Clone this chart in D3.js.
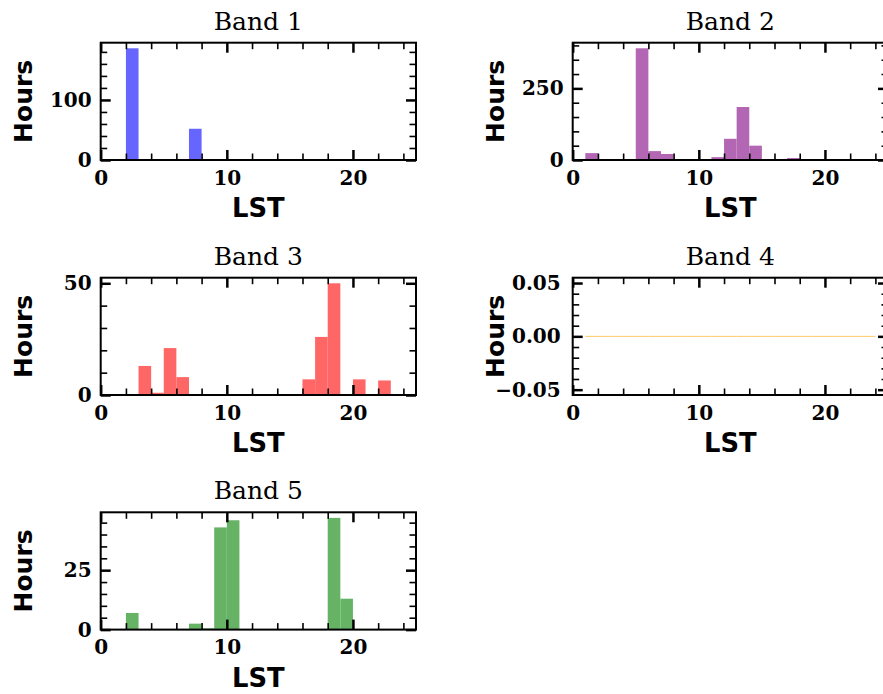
<!DOCTYPE html>
<html>
<head>
<meta charset="utf-8">
<script src="https://cdn.jsdelivr.net/npm/d3@7"></script>
<style>
  html, body { margin: 0; padding: 0; background: #fff; }
  svg { display: block; }
</style>
</head>
<body>
<svg id="chart" width="883" height="694"></svg>
<script>
// ---- data ----
const binEdges = [1,2,3,4,5,6,7,8,9,10,11,12,13,14,15,16,17,18,19,20,21,22,23]; // left edge of each 1-h LST bin
const band1 = [1,186,0,0,0,0,52,0,0,0,0,0,0,0,0,0,0,0,0,0,0,0,0];
const band2 = [24,0,0,0,390,31,21,0,1,0,10,74,185,50,0,0,7,0,0,0,0,0,2];
const band3 = [0,0,13,1,21,8,0,0,0,0,0,0,0,0,0,7,26,50,0,7,0,6.5,0];
const band4 = [0,0,0,0,0,0,0,0,0,0,0,0,0,0,0,0,0,0,0,0,0,0,0];
const band5 = [0,7,0,0,0,0,2.5,0.5,43,46,0,0,0,0,0,0,0,47,13,0,0,0,0];
const titles = ["Band 1","Band 2","Band 3","Band 4","Band 5"];
const xMajorTicks = [0,10,20];
const yMajorTicks = [[0,100],[0,250],[0,50],[-0.05,0,0.05],[0,25]];
const yMinorSteps = [20,50,10,0.01,5];

// ---- styles / layout ----
const colors = ["#6666ff","#b366b3","#ff6666","#ffc966","#66b366"];
const colX = [100.7, 572.7];
const rowY = [42.7, 277.7, 512.3];
const W = 315.3, H = 117.3;
const svg = d3.select("#chart");

const series = [band1, band2, band3, band4, band5];

series.forEach((vals, i) => {
  const col = i % 2, row = Math.floor(i / 2);
  const g = svg.append("g").attr("transform", `translate(${colX[col]},${rowY[row]})`);
  const x = d3.scaleLinear().domain([0, 25]).range([0, W]);
  const maxV = d3.max(vals);
  const y = maxV > 0
    ? d3.scaleLinear().domain([0, maxV * 1.05]).range([H, 0])
    : d3.scaleLinear().domain([-0.055, 0.055]).range([H, 0]);

  // bars
  g.selectAll("rect.bar").data(vals.map((v, k) => ({v, e: binEdges[k]})))
    .enter().append("rect").attr("class", "bar")
    .attr("x", d => x(d.e))
    .attr("width", d => x(d.e + 1) - x(d.e))
    .attr("y", d => d.v > 0 ? y(d.v) : y(0) - 0.5)
    .attr("height", d => d.v > 0 ? y(0) - y(d.v) : 1)
    .attr("fill", colors[i]);

  // ticks
  const xMinor = d3.range(2, 25, 2).filter(t => !xMajorTicks.includes(t));
  const [y0, y1] = y.domain();
  const step = yMinorSteps[i];
  const yMinor = d3.range(Math.ceil(y0 / step - 1e-9), Math.floor(y1 / step + 1e-9) + 1)
    .map(k => +(k * step).toFixed(6))
    .filter(t => !yMajorTicks[i].some(m => Math.abs(m - t) < 1e-9));

  const fmt = i === 3 ? (d => d3.format(".2f")(d).replace("-", "\u2212")) : d3.format("d");

  const styleAxis = (sel, major) => {
    sel.select(".domain").remove();
    sel.selectAll(".tick line").attr("stroke", "#000").attr("stroke-width", major ? 2.5 : 1.6);
    sel.selectAll(".tick text")
      .attr("font-family", "'DejaVu Serif', serif")
      .attr("font-weight", "bold")
      .attr("font-size", 20)
      .attr("fill", "#000");
  };

  // bottom
  g.append("g").attr("transform", `translate(0,${H})`)
    .call(d3.axisBottom(x).tickValues(xMajorTicks).tickSize(-10).tickPadding(10.3).tickFormat(d3.format("d")))
    .call(s => styleAxis(s, true));
  g.append("g").attr("transform", `translate(0,${H})`)
    .call(d3.axisBottom(x).tickValues(xMinor).tickSize(-6.5).tickFormat(""))
    .call(s => styleAxis(s, false));
  // top
  g.append("g")
    .call(d3.axisTop(x).tickValues(xMajorTicks).tickSize(-10).tickFormat(""))
    .call(s => styleAxis(s, true));
  g.append("g")
    .call(d3.axisTop(x).tickValues(xMinor).tickSize(-6.5).tickFormat(""))
    .call(s => styleAxis(s, false));
  // left
  g.append("g")
    .call(d3.axisLeft(y).tickValues(yMajorTicks[i]).tickSize(-10).tickPadding(i === 3 ? 12 : 9).tickFormat(fmt))
    .call(s => styleAxis(s, true));
  g.append("g")
    .call(d3.axisLeft(y).tickValues(yMinor).tickSize(-6.5).tickFormat(""))
    .call(s => styleAxis(s, false));
  // right
  g.append("g").attr("transform", `translate(${W},0)`)
    .call(d3.axisRight(y).tickValues(yMajorTicks[i]).tickSize(-10).tickFormat(""))
    .call(s => styleAxis(s, true));
  g.append("g").attr("transform", `translate(${W},0)`)
    .call(d3.axisRight(y).tickValues(yMinor).tickSize(-6.5).tickFormat(""))
    .call(s => styleAxis(s, false));

  // frame
  g.append("rect").attr("x", 0).attr("y", 0).attr("width", W).attr("height", H)
    .attr("fill", "none").attr("stroke", "#000").attr("stroke-width", 2);

  // title
  g.append("text").attr("x", W / 2).attr("y", -13)
    .attr("text-anchor", "middle")
    .attr("font-family", "'DejaVu Serif', serif").attr("font-size", 25)
    .attr("fill", "#000").text(titles[i]);

  // axis labels
  g.append("text").attr("x", W / 2).attr("y", H + 57)
    .attr("text-anchor", "middle")
    .attr("font-family", "'DejaVu Sans', sans-serif").attr("font-weight", "bold").attr("font-size", 25.8)
    .attr("fill", "#000").text("LST");
  g.append("text")
    .attr("transform", `translate(${-68.5},${H / 2}) rotate(-90)`)
    .attr("text-anchor", "middle")
    .attr("font-family", "'DejaVu Sans', sans-serif").attr("font-weight", "bold").attr("font-size", 25)
    .attr("fill", "#000").text("Hours");
});
</script>
</body>
</html>
